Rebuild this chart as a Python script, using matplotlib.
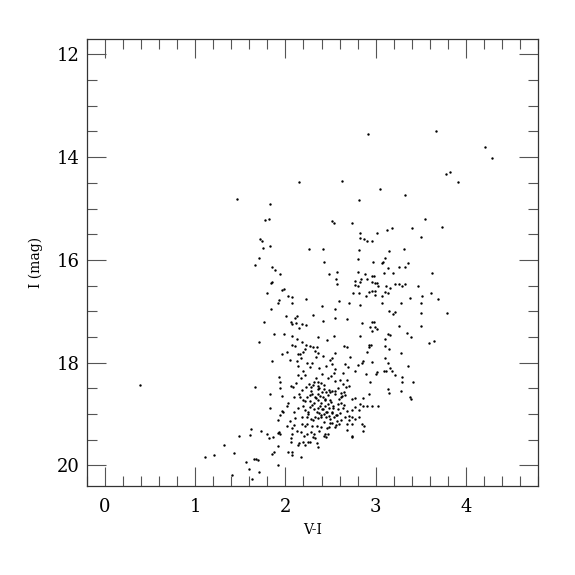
import matplotlib
matplotlib.use("Agg")
import matplotlib.pyplot as plt
from matplotlib.ticker import MultipleLocator

vi = [2.912, 3.666, 4.216, 4.289, 3.78, 3.82, 3.914, 2.151, 2.627, 3.043, 3.33, 2.81, 1.462, 1.833,
      1.772, 1.817, 2.521, 2.542, 2.733, 3.548, 3.731, 3.405, 3.503, 3.181, 3.124, 2.823, 2.827, 2.872,
      2.908, 2.965, 3.01, 1.715, 1.735, 1.756, 1.833, 1.703, 1.662, 2.261, 2.42, 2.432, 2.819, 3.145,
      3.316, 3.356, 3.263, 3.328, 3.1, 3.079, 3.067, 2.974, 3.137, 3.198, 3.092, 2.802, 2.802, 1.849,
      1.886, 1.943, 1.849, 1.84, 2.57, 2.48, 2.57, 2.562, 2.774, 2.766, 2.802, 2.823, 2.835, 2.88,
      2.904, 2.965, 2.981, 2.957, 2.994, 3.018, 3.026, 3.12, 3.161, 3.218, 3.263, 3.324, 3.291, 3.475,
      3.629, 3.617, 3.686, 3.515, 3.507, 3.499, 3.385, 3.279, 3.141, 3.1, 3.071, 2.925, 2.965, 2.998,
      2.998, 3.071, 2.888, 2.81, 2.753, 2.709, 2.823, 2.595, 2.546, 2.407, 1.967, 1.984, 1.8, 1.837,
      1.931, 1.914, 2.029, 2.073, 2.073, 2.228, 2.008, 2.06, 2.077, 2.106, 2.13, 2.114, 2.155, 2.187,
      2.228, 2.302, 2.415, 2.546, 2.68, 2.847, 1.764, 1.87, 1.98, 1.707, 2.077, 2.13, 2.077, 2.102,
      2.179, 2.232, 2.273, 2.366, 2.456, 2.538, 2.652, 2.688, 2.823, 2.933, 2.961, 2.986, 2.998, 2.957,
      3.014, 3.145, 3.198, 3.21, 3.259, 3.344, 3.393, 3.507, 3.597, 3.646, 3.788, 3.132, 3.157, 3.104,
      3.108, 3.149, 2.921, 2.929, 2.953, 2.908, 3.108, 3.137, 3.161, 3.177, 3.279, 3.36, 3.21, 3.116,
      3.018, 3.002, 3.092, 3.291, 3.296, 3.409, 3.283, 3.381, 3.397, 3.132, 3.149, 2.937, 2.929, 3.026,
      2.957, 2.904, 2.855, 2.896, 2.851, 2.855, 2.961, 2.766, 2.806, 2.717, 2.66, 2.692, 2.639, 2.688,
      2.554, 2.534, 2.517, 2.546, 2.521, 2.489, 2.452, 2.415, 2.334, 2.326, 2.302, 2.346, 2.358, 2.212,
      2.195, 2.163, 2.138, 2.171, 2.13, 2.049, 2.012, 1.967, 1.849, 2.142, 2.236, 2.293, 2.273, 2.375,
      2.191, 2.22, 2.134, 2.171, 2.114, 2.057, 2.081, 1.931, 1.939, 1.935, 1.833, 1.658, 0.391, 1.829,
      1.967, 1.963, 1.943, 1.914, 1.731, 1.613, 1.605, 1.483, 1.324, 1.43, 1.206, 1.104, 1.405, 1.56,
      1.597, 1.633, 1.65, 1.67, 1.694, 1.711, 1.8, 1.817, 1.865, 1.914, 1.927, 1.935, 1.918, 1.849,
      1.874, 1.918, 2.029, 2.077, 2.069, 2.171, 2.138, 2.155, 2.195, 2.216, 2.253, 2.273, 2.302, 2.326,
      2.35, 2.358, 2.432, 2.452, 2.468, 2.057, 2.057, 2.077, 2.069, 2.016, 2.098, 2.106, 2.049, 2.016,
      2.029, 1.976, 2.09, 2.134, 2.191, 2.159, 2.09, 2.151, 2.179, 2.228, 2.265, 2.285, 2.306, 2.318,
      2.334, 2.358, 2.366, 2.391, 2.432, 2.428, 2.448, 2.48, 2.497, 2.521, 2.546, 2.554, 2.578, 2.611,
      2.631, 2.652, 2.676, 2.643, 2.603, 2.701, 2.741, 2.774, 2.766, 2.823, 2.81, 2.864, 2.733, 2.709,
      2.68, 2.652, 2.619, 2.587, 2.566, 2.517, 2.485, 2.529, 2.476, 2.497, 2.44, 2.415, 2.383, 2.358,
      2.326, 2.297, 2.269, 2.244, 2.22, 2.195, 2.277, 2.318, 2.362, 2.399, 2.387, 2.366, 2.407, 2.436,
      2.456, 2.424, 2.375, 2.346, 2.314, 2.273, 2.253, 2.22, 2.179, 2.236, 2.285, 2.326, 2.358, 2.399,
      2.448, 2.48, 2.497, 2.538, 2.57, 2.562, 2.595, 2.619, 2.66, 2.684, 2.741, 2.741, 2.68, 2.733,
      2.741, 2.847, 2.868, 2.864, 2.815, 2.774, 2.554, 2.517, 2.485, 2.456, 2.436, 2.399, 2.375, 2.346,
      2.293, 2.244, 2.212, 2.179, 2.285, 2.318, 2.236, 2.204, 2.167, 2.13,
      2.40, 2.47, 2.55, 2.50, 2.44, 2.36, 2.62, 2.58, 2.45, 2.52, 2.41, 2.34, 2.29, 2.60, 2.47,
      2.53, 2.39, 2.31, 2.25, 2.64, 2.70, 2.57, 2.43, 2.49, 2.59, 2.37, 2.51, 2.66, 2.28, 2.42]
imag = [13.546, 13.482, 13.81, 14.007, 14.33, 14.29, 14.475, 14.475, 14.46, 14.61, 14.745, 14.84, 14.81, 14.91,
        15.22, 15.21, 15.24, 15.28, 15.29, 15.2, 15.355, 15.376, 15.553, 15.376, 15.418, 15.468, 15.574, 15.589,
        15.638, 15.624, 15.468, 15.596, 15.63, 15.77, 15.73, 15.97, 16.106, 15.78, 15.794, 16.04, 15.81, 15.83,
        15.787, 16.06, 16.13, 16.13, 15.96, 16.035, 16.06, 16.04, 16.16, 16.25, 16.25, 15.99, 16.23, 16.14,
        16.205, 16.28, 16.43, 16.44, 16.24, 16.28, 16.47, 16.37, 16.41, 16.48, 16.5, 16.42, 16.37, 16.28,
        16.37, 16.32, 16.31, 16.43, 16.45, 16.45, 16.5, 16.51, 16.54, 16.475, 16.47, 16.46, 16.5, 16.5,
        16.255, 16.645, 16.76, 16.7, 16.83, 17.03, 16.75, 16.84, 16.645, 16.62, 16.71, 16.63, 16.6, 16.595,
        16.69, 16.84, 16.71, 16.65, 16.65, 16.84, 16.88, 16.79, 16.96, 16.89, 16.58, 16.56, 16.645, 16.96,
        16.78, 16.84, 16.7, 16.72, 16.83, 16.77, 17.09, 17.21, 17.25, 17.13, 17.1, 17.22, 17.33, 17.24,
        17.27, 17.07, 17.18, 17.13, 17.15, 17.22, 17.21, 17.45, 17.44, 17.6, 17.48, 17.54, 17.65, 17.68,
        17.6, 17.65, 17.67, 17.5, 17.56, 17.475, 17.67, 17.7, 17.475, 17.3, 17.21, 17.21, 17.31, 17.38,
        17.34, 17.0, 17.06, 17.02, 17.28, 17.42, 17.5, 17.29, 17.62, 17.57, 17.035, 17.44, 17.47, 17.54,
        17.67, 17.74, 17.65, 17.695, 17.65, 17.79, 17.91, 18.0, 18.1, 18.16, 17.82, 18.07, 18.23, 18.16,
        18.19, 18.22, 18.16, 18.28, 18.38, 18.38, 18.56, 18.67, 18.7, 18.51, 18.59, 18.37, 18.6, 18.84,
        18.85, 18.85, 18.68, 18.22, 18.0, 17.97, 17.99, 18.16, 18.04, 17.88, 18.03, 18.09, 18.21, 18.33,
        18.13, 18.21, 18.035, 17.82, 17.91, 17.95, 18.07, 17.87, 17.88, 17.77, 17.7, 17.69, 17.81, 17.74,
        17.79, 17.84, 17.84, 17.91, 17.96, 17.95, 17.79, 17.83, 17.96, 18.07, 18.0, 18.0, 18.09, 18.1,
        18.16, 18.24, 18.24, 18.3, 18.39, 18.46, 18.48, 18.27, 18.38, 18.5, 18.6, 18.47, 18.43, 18.89,
        18.64, 18.94, 19.01, 19.11, 19.32, 19.3, 19.4, 19.42, 19.6, 19.76, 19.79, 19.84, 20.18, 19.93,
        20.07, 20.255, 19.88, 19.88, 19.89, 20.12, 19.38, 19.46, 19.44, 19.37, 19.35, 19.39, 19.63, 19.77,
        19.73, 19.99, 19.745, 19.73, 19.79, 19.84, 19.6, 19.57, 19.545, 19.61, 19.55, 19.55, 19.45, 19.47,
        19.57, 19.645, 19.42, 19.44, 19.38, 19.545, 19.46, 19.38, 19.28, 19.23, 19.22, 19.08, 19.13, 18.85,
        18.78, 18.95, 18.96, 18.89, 18.84, 18.67, 18.67, 18.6, 18.53, 18.48, 18.41, 18.475, 18.44, 18.38,
        18.3, 18.38, 18.46, 18.4, 18.44, 18.51, 18.57, 18.54, 18.57, 18.55, 18.6, 18.55, 18.5, 18.59,
        18.64, 18.57, 18.48, 18.41, 18.34, 18.46, 18.71, 18.69, 18.87, 18.8, 18.92, 18.84, 18.92, 19.03,
        18.94, 18.82, 18.78, 18.91, 19.01, 18.95, 18.89, 18.85, 18.8, 18.73, 18.72, 18.67, 18.64, 18.6,
        18.66, 18.6, 18.63, 18.67, 18.74, 18.73, 18.74, 18.78, 18.73, 18.78, 18.85, 18.89, 18.91, 18.85,
        18.96, 18.99, 18.98, 18.96, 18.91, 18.87, 18.95, 18.92, 19.05, 19.06, 19.1, 19.05, 19.08, 19.06,
        19.06, 19.03, 19.1, 19.06, 19.13, 19.21, 19.2, 19.11, 19.06, 19.2, 19.2, 19.05, 19.31, 19.42,
        19.45, 19.19, 19.23, 19.33, 19.05, 19.1, 19.26, 19.17, 19.26, 19.28, 19.38, 19.26, 19.33, 19.24,
        19.24, 19.19, 19.24, 19.2, 19.35, 19.38, 19.38, 19.42, 19.35, 19.32,
        18.22, 18.30, 18.36, 18.25, 18.70, 18.52, 18.66, 18.80, 18.95, 18.98, 18.58, 18.69, 18.82, 18.98, 18.62,
        18.88, 19.02, 19.12, 19.00, 18.88, 19.12, 19.02, 19.15, 19.18, 18.70, 18.50, 18.76, 18.62, 18.55, 18.90]

fig = plt.figure(figsize=(5.75, 5.75), dpi=100)
ax = fig.add_axes([87/575, 1-486/575, (538-87)/575, (486-39)/575])
ax.scatter(vi, imag, s=3.0, c="black", marker="o", linewidths=0)
ax.set_xlim(-0.2, 4.8)
ax.set_ylim(20.4, 11.7)

ax.xaxis.set_major_locator(MultipleLocator(1))
ax.xaxis.set_minor_locator(MultipleLocator(0.2))
ax.yaxis.set_major_locator(MultipleLocator(2))
ax.yaxis.set_minor_locator(MultipleLocator(0.5))
ax.tick_params(which="both", direction="in", top=True, right=True, color="#555555", width=0.8)
ax.tick_params(which="major", length=14)
ax.tick_params(which="minor", length=7)
ax.tick_params(axis="x", which="major", pad=9, labelsize=13)
ax.tick_params(axis="y", which="major", pad=5, labelsize=13)
for lab in ax.get_xticklabels() + ax.get_yticklabels():
    lab.set_family("DejaVu Serif")
for sp in ax.spines.values():
    sp.set_linewidth(0.9)
    sp.set_color("#333333")

ax.set_xlabel("V-I", family="DejaVu Serif", fontsize=10, labelpad=5)
ax.set_ylabel("I (mag)", family="DejaVu Serif", fontsize=10, labelpad=10)

fig.savefig("out.png", dpi=100)
